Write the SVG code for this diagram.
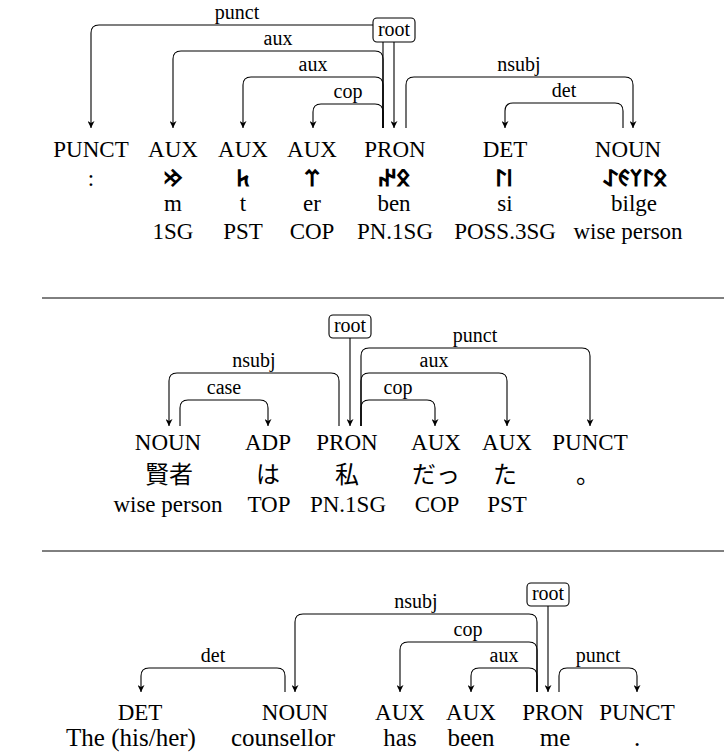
<svg xmlns="http://www.w3.org/2000/svg" width="724" height="756" viewBox="0 0 724 756">
<defs>
<marker id="ah" viewBox="0 0 10 10" refX="10" refY="5" markerWidth="7" markerHeight="7" markerUnits="userSpaceOnUse" orient="auto">
<path d="M0,0 L10,5 L0,10 L3,5 z" fill="#000"/>
</marker>
<style>
.w{font-family:"Liberation Serif","Times New Roman",serif;font-size:23px;fill:#000;text-anchor:middle}
.b{font-family:"Liberation Serif","Times New Roman",serif;font-size:25px;fill:#000;text-anchor:middle}
.j{font-family:"Liberation Serif","Noto Sans CJK JP",serif;font-size:24px;fill:#000;text-anchor:middle}
.r{font-family:"Noto Sans Old Turkic","Liberation Serif",sans-serif;font-size:23px;font-weight:bold;fill:#000;text-anchor:middle}
.l{font-family:"Liberation Serif","Times New Roman",serif;font-size:20px;fill:#000;text-anchor:middle}
.ar{fill:none;stroke:#000;stroke-width:1.1;marker-end:url(#ah)}
.box{fill:#fff;stroke:#000;stroke-width:1.1}
.sep{stroke:#000;stroke-width:1}
</style>
</defs>
<rect width="724" height="756" fill="#fff"/>

<!-- separators -->
<line class="sep" x1="42" y1="298" x2="724" y2="298"/>
<line class="sep" x1="42" y1="551" x2="724" y2="551"/>

<!-- connectors -->
<g id="connectors">
<!-- sentence 1 -->
<path class="ar" d="M383,128 V33 Q383,25 375,25 H99 Q91,25 91,33 V128"/>
<path class="ar" d="M383,128 V59 Q383,51 375,51 H181 Q173,51 173,59 V128"/>
<path class="ar" d="M383,128 V85 Q383,77 375,77 H251 Q243,77 243,85 V128"/>
<path class="ar" d="M383,128 V112 Q383,104 375,104 H321 Q313,104 313,112 V128"/>
<path class="ar" d="M406,128 V85 Q406,77 414,77 H625 Q633,77 633,85 V128"/>
<path class="ar" d="M623,128 V111 Q623,103 615,103 H513 Q505,103 505,111 V128"/>
<path class="ar" d="M394,42 V128"/>
<text class="l" x="237" y="19">punct</text>
<text class="l" x="278" y="45">aux</text>
<text class="l" x="313" y="71">aux</text>
<text class="l" x="348" y="98">cop</text>
<text class="l" x="519" y="71">nsubj</text>
<text class="l" x="564" y="97">det</text>
<!-- sentence 2 -->
<path class="ar" d="M339,426 V381 Q339,373 331,373 H177 Q169,373 169,381 V426"/>
<path class="ar" d="M180,426 V408 Q180,400 188,400 H260 Q268,400 268,408 V426"/>
<path class="ar" d="M361,426 V356 Q361,348 369,348 H582 Q590,348 590,356 V426"/>
<path class="ar" d="M361,426 V381 Q361,373 369,373 H499 Q507,373 507,381 V426"/>
<path class="ar" d="M361,426 V408 Q361,400 369,400 H427 Q435,400 435,408 V426"/>
<path class="ar" d="M350,338 V426"/>
<text class="l" x="254" y="367">nsubj</text>
<text class="l" x="224" y="394">case</text>
<text class="l" x="475" y="342">punct</text>
<text class="l" x="434" y="367">aux</text>
<text class="l" x="398" y="394">cop</text>
<!-- sentence 3 -->
<path class="ar" d="M537,692 V622 Q537,614 529,614 H303 Q295,614 295,622 V692"/>
<path class="ar" d="M537,692 V650 Q537,642 529,642 H408 Q400,642 400,650 V692"/>
<path class="ar" d="M537,692 V676 Q537,668 529,668 H479 Q471,668 471,676 V692"/>
<path class="ar" d="M559,692 V676 Q559,668 567,668 H629 Q637,668 637,676 V692"/>
<path class="ar" d="M285,692 V676 Q285,668 277,668 H149 Q141,668 141,676 V692"/>
<path class="ar" d="M548,606 V692"/>
<text class="l" x="416" y="608">nsubj</text>
<text class="l" x="468" y="636">cop</text>
<text class="l" x="504" y="662">aux</text>
<text class="l" x="598" y="662">punct</text>
<text class="l" x="213" y="662">det</text>
</g>

<!-- root boxes -->
<g id="root1"><rect class="box" x="373" y="18" width="42" height="24" rx="4"/><text class="l" x="394" y="36">root</text></g>
<g id="root2"><rect class="box" x="329" y="315" width="42" height="23" rx="4"/><text class="l" x="350" y="332">root</text></g>
<g id="root3"><rect class="box" x="527" y="583" width="42" height="23" rx="4"/><text class="l" x="548" y="600">root</text></g>

<!-- sentence 1 nodes -->
<g id="s1w1"><text class="w" x="91" y="157">PUNCT</text><text class="w" x="91" y="186">:</text></g>
<g id="s1w2"><text class="w" x="173" y="157">AUX</text><text class="r" x="173" y="186">&#x10C22;</text><text class="w" x="173" y="211">m</text><text class="w" x="173" y="239">1SG</text></g>
<g id="s1w3"><text class="w" x="243" y="157">AUX</text><text class="r" x="243" y="186">&#x10C45;</text><text class="w" x="243" y="211">t</text><text class="w" x="243" y="239">PST</text></g>
<g id="s1w4"><text class="w" x="312" y="157">AUX</text><text class="r" x="312" y="186">&#x10C3C;</text><text class="w" x="312" y="211">er</text><text class="w" x="312" y="239">COP</text></g>
<g id="s1w5"><text class="w" x="395" y="157">PRON</text><text class="r" x="394" y="186">&#x10C0B;&#x10C24;</text><text class="w" x="394" y="211">ben</text><text class="w" x="395" y="239">PN.1SG</text></g>
<g id="s1w6"><text class="w" x="505" y="157">DET</text><text class="r" x="504" y="186">&#x10C3E;&#x10C03;</text><text class="w" x="505" y="211">si</text><text class="w" x="505" y="239">POSS.3SG</text></g>
<g id="s1w7"><text class="w" x="628" y="157">NOUN</text><text class="r" x="635" y="186">&#x10C0B;&#x10C03;&#x10C20;&#x10C0F;&#x10C00;</text><text class="w" x="634" y="211">bilge</text><text class="w" x="628" y="239">wise person</text></g>

<!-- sentence 2 nodes -->
<g id="s2w1"><text class="w" x="168" y="450">NOUN</text><text class="j" x="169" y="483">賢者</text><text class="w" x="168" y="512">wise person</text></g>
<g id="s2w2"><text class="w" x="268" y="450">ADP</text><text class="j" x="268" y="483">は</text><text class="w" x="269" y="512">TOP</text></g>
<g id="s2w3"><text class="w" x="347" y="450">PRON</text><text class="j" x="347" y="483">私</text><text class="w" x="348" y="512">PN.1SG</text></g>
<g id="s2w4"><text class="w" x="436" y="450">AUX</text><text class="j" x="436" y="483">だっ</text><text class="w" x="437" y="512">COP</text></g>
<g id="s2w5"><text class="w" x="507" y="450">AUX</text><text class="j" x="505" y="483">た</text><text class="w" x="507" y="512">PST</text></g>
<g id="s2w6"><text class="w" x="590" y="450">PUNCT</text><text class="j" x="588" y="483">。</text></g>

<!-- sentence 3 nodes -->
<g id="s3w1"><text class="w" x="140" y="720">DET</text><text class="b" x="131" y="746">The (his/her)</text></g>
<g id="s3w2"><text class="w" x="295" y="720">NOUN</text><text class="b" x="283" y="746">counsellor</text></g>
<g id="s3w3"><text class="w" x="400" y="720">AUX</text><text class="b" x="400" y="746">has</text></g>
<g id="s3w4"><text class="w" x="471" y="720">AUX</text><text class="b" x="471" y="746">been</text></g>
<g id="s3w5"><text class="w" x="553" y="720">PRON</text><text class="b" x="555" y="746">me</text></g>
<g id="s3w6"><text class="w" x="637" y="720">PUNCT</text><text class="b" x="637" y="746">.</text></g>
</svg>
